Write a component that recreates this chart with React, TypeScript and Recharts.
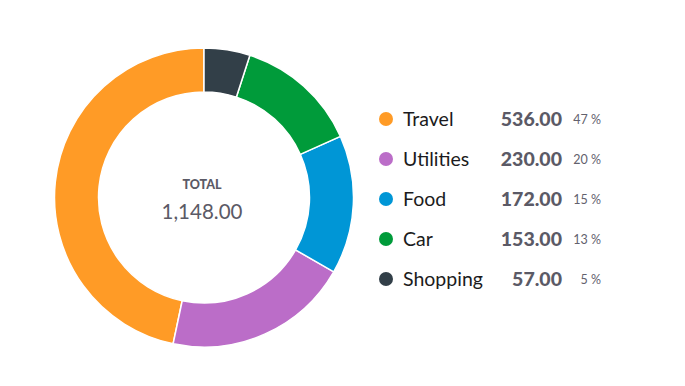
import React from "react";
import { PieChart, Pie, Cell, Legend, Label } from "recharts";

const categories = ["Travel", "Utilities", "Food", "Car", "Shopping"];
const amounts = [536, 230, 172, 153, 57];
const percents = ["47 %", "20 %", "15 %", "13 %", "5 %"];
const colors = ["#FF9B26", "#BB6DC8", "#0096D6", "#009B3A", "#323F48"];
const totalLabel = "TOTAL";

const fmt = (v: number) =>
  v.toLocaleString("en-US", { minimumFractionDigits: 2, maximumFractionDigits: 2 });

const total = amounts.reduce((a, b) => a + b, 0);
const data = categories.map((name, i) => ({ name, value: amounts[i] }));

const FONT = "Lato, 'Open Sans', sans-serif";
const CX = 196;
const CY = 189.5;

const LegendContent = () => (
  <div style={{ fontFamily: FONT }}>
    {categories.map((c, i) => (
      <div key={c} style={{ position: "relative", height: 40, width: 240 }}>
        <span
          style={{
            position: "absolute",
            left: 0,
            top: 13,
            width: 14,
            height: 14,
            borderRadius: 7,
            background: colors[i],
          }}
        />
        <span
          style={{
            position: "absolute",
            left: 24,
            top: 0,
            lineHeight: "40px",
            fontSize: 19.5,
            color: "#1b1b20",
          }}
        >
          {c}
        </span>
        <span
          style={{
            position: "absolute",
            right: 240 - 183,
            top: 0,
            lineHeight: "40px",
            fontSize: 19.5,
            fontWeight: 900,
            color: "#5b5a66",
          }}
        >
          {fmt(amounts[i])}
        </span>
        <span
          style={{
            position: "absolute",
            right: 240 - 222,
            top: 1,
            lineHeight: "40px",
            fontSize: 12.5,
            color: "#62616d",
          }}
        >
          {percents[i]}
        </span>
      </div>
    ))}
  </div>
);

const CenterLabel = () => (
  <g style={{ fontFamily: FONT }}>
    <text x={CX - 2} y={CY - 9} textAnchor="middle" fontSize={12.5} fontWeight={900} fill="#5b5a66">
      {totalLabel}
    </text>
    <text x={CX - 2} y={CY + 21} textAnchor="middle" fontSize={20.5} fill="#5b5a66">
      {fmt(total)}
    </text>
  </g>
);

export default function App() {
  return (
    <PieChart width={685} height={378} margin={{ top: 0, right: 0, bottom: 0, left: 0 }}>
      <Pie
        data={data}
        dataKey="value"
        nameKey="name"
        cx={CX}
        cy={CY}
        innerRadius={105.5}
        outerRadius={149.5}
        startAngle={90}
        endAngle={450}
        stroke="#ffffff"
        strokeWidth={1.5}
        isAnimationActive={false}
      >
        {data.map((d, i) => (
          <Cell key={d.name} fill={colors[i]} />
        ))}
        <Label position="center" content={<CenterLabel />} />
      </Pie>
      <Legend
        content={<LegendContent />}
        wrapperStyle={{ position: "absolute", left: 371, top: 90.5, width: 240, height: 200 }}
      />
    </PieChart>
  );
}
